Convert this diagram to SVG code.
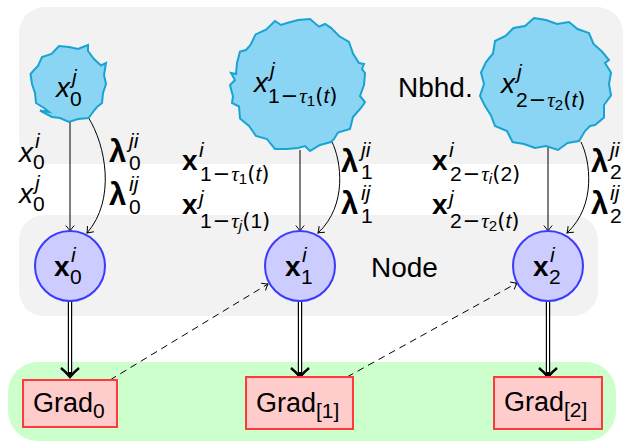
<svg xmlns="http://www.w3.org/2000/svg" width="624" height="442" viewBox="0 0 624 442">
<style>
.band{fill:#f2f2f2}
.green{fill:#ccffcc}
.blob{fill:#8bd5f4;stroke:#18a3d2;stroke-width:2;stroke-linejoin:miter}
.nd{fill:#ccccff;stroke:#3a3aff;stroke-width:2}
.gr{fill:#ffcccc;stroke:#ff3a3a;stroke-width:2}
text{font-family:"Liberation Sans",Arial,sans-serif;fill:#000}
.m{font-size:28px}
.g{font-size:27px}
.big{font-size:28px}
.it{font-style:italic}
.b{font-weight:bold}
.lam{font-weight:bold;font-size:31px}
.s{font-size:21px}
.ss{font-size:15px}
.mn{font-family:"DejaVu Sans",sans-serif}
.tau{font-family:"Liberation Serif",serif;font-style:italic}
.thin{fill:none;stroke:#000;stroke-width:1}
.dash{fill:none;stroke:#000;stroke-width:1;stroke-dasharray:7 5}
.dbl-o{fill:none;stroke:#000;stroke-width:4.4}
.dbl-i{fill:none;stroke:#fff;stroke-width:2}
.head{fill:none;stroke:#000;stroke-width:2.4;stroke-linejoin:miter}
</style>
<defs>
<marker id="to" viewBox="-7 -6 8 12" refX="0" refY="0" markerWidth="8" markerHeight="12" orient="auto" markerUnits="userSpaceOnUse" overflow="visible">
<path d="M-5.5,-4.2 Q-2,-1.2 0,0 Q-2,1.2 -5.5,4.2" fill="none" stroke="#000" stroke-width="1"/>
</marker>
</defs>

<g id="backgrounds">
<rect class="band" x="19" y="7" width="604" height="157" rx="26"/>
<rect class="band" x="19" y="215" width="579" height="101" rx="25"/>
<rect class="green" x="8" y="362" width="608" height="79" rx="30"/>
<text class="big" x="398" y="97">Nbhd.</text>
<text class="big" x="371" y="277">Node</text>
</g>

<g id="connectors">
<path class="thin" d="M70,122 L70,231" marker-end="url(#to)"/>
<path class="thin" d="M300,150 L300,231" marker-end="url(#to)"/>
<path class="thin" d="M548,147 L548,231" marker-end="url(#to)"/>
<path class="thin" d="M88,117 C106,145 116,200 87,233" marker-end="url(#to)"/>
<path class="thin" d="M332,142 C341,160 348,205 318,233" marker-end="url(#to)"/>
<path class="thin" d="M581,142 C590,160 597,205 567,233" marker-end="url(#to)"/>
<path class="dash" d="M110,380 L268,284" marker-end="url(#to)"/>
<path class="dash" d="M347,377 L517,283" marker-end="url(#to)"/>
<path class="dbl-o" d="M70,301 V375"/><path class="dbl-i" d="M70,300 V372"/>
<path class="head" d="M61,368 Q66,372 70,377 Q74,372 79,368"/>
<path class="dbl-o" d="M300,301 V375"/><path class="dbl-i" d="M300,300 V372"/>
<path class="head" d="M291,368 Q296,372 300,377 Q304,372 309,368"/>
<path class="dbl-o" d="M548,301 V375"/><path class="dbl-i" d="M548,300 V372"/>
<path class="head" d="M539,368 Q544,372 548,377 Q552,372 557,368"/>
<g id="edge-labels">
<text class="m"><tspan class="it" x="19" y="162">x</tspan><tspan class="s it" x="35" y="148">i</tspan><tspan class="s" x="33" y="169">0</tspan></text>
<text class="m"><tspan class="it" x="19" y="203">x</tspan><tspan class="s it" x="35" y="190">j</tspan><tspan class="s" x="33" y="211">0</tspan></text>
<text class="m"><tspan class="lam" x="109" y="162">λ</tspan><tspan class="s it" x="129" y="148">ji</tspan><tspan class="s" x="129" y="170">0</tspan></text>
<text class="m"><tspan class="lam" x="109" y="205">λ</tspan><tspan class="s it" x="129" y="191">ij</tspan><tspan class="s" x="129" y="214">0</tspan></text>

<text class="m"><tspan class="b" x="182" y="170">x</tspan><tspan class="s it" x="199" y="157">i</tspan><tspan class="s" x="200" y="181">1</tspan><tspan class="s mn" dx="1">−</tspan><tspan class="s tau" dx="1">τ</tspan><tspan class="ss" dy="3">1</tspan><tspan class="s mn" dy="-3">(</tspan><tspan class="s it">t</tspan><tspan class="s mn">)</tspan></text>
<text class="m"><tspan class="b" x="182" y="214">x</tspan><tspan class="s it" x="199" y="205">j</tspan><tspan class="s" x="200" y="228">1</tspan><tspan class="s mn" dx="1">−</tspan><tspan class="s tau" dx="1">τ</tspan><tspan class="ss it" dy="3">j</tspan><tspan class="s mn" dy="-3">(</tspan><tspan class="s">1</tspan><tspan class="s mn">)</tspan></text>
<text class="m"><tspan class="lam" x="341" y="172">λ</tspan><tspan class="s it" x="361" y="157">ji</tspan><tspan class="s" x="361" y="179">1</tspan></text>
<text class="m"><tspan class="lam" x="341" y="214">λ</tspan><tspan class="s it" x="361" y="200">ij</tspan><tspan class="s" x="361" y="223">1</tspan></text>

<text class="m"><tspan class="b" x="432" y="170">x</tspan><tspan class="s it" x="449" y="157">i</tspan><tspan class="s" x="450" y="181">2</tspan><tspan class="s mn" dx="1">−</tspan><tspan class="s tau" dx="1">τ</tspan><tspan class="ss it" dy="3">i</tspan><tspan class="s mn" dy="-3">(</tspan><tspan class="s">2</tspan><tspan class="s mn">)</tspan></text>
<text class="m"><tspan class="b" x="432" y="214">x</tspan><tspan class="s it" x="449" y="205">j</tspan><tspan class="s" x="450" y="228">2</tspan><tspan class="s mn" dx="1">−</tspan><tspan class="s tau" dx="1">τ</tspan><tspan class="ss" dy="3">2</tspan><tspan class="s mn" dy="-3">(</tspan><tspan class="s it">t</tspan><tspan class="s mn">)</tspan></text>
<text class="m"><tspan class="lam" x="591" y="172">λ</tspan><tspan class="s it" x="610" y="157">ji</tspan><tspan class="s" x="610" y="179">2</tspan></text>
<text class="m"><tspan class="lam" x="591" y="214">λ</tspan><tspan class="s it" x="610" y="200">ij</tspan><tspan class="s" x="610" y="223">2</tspan></text>
</g>
</g>

<g id="nbhd0">
<polygon class="blob" points="106,84 103,93 102,103 97,107 94.5,110 88.5,118 78,119 69,122 60,118 52,117 40,110.5 49,112 44,108 36,103 35,93 32,84 30.5,74 34,70 38,66 42,57 51.5,54 59,46 69,47 78,49 88,45 88,51 94,59 101,65.5 106,63 104,75"/>
<text class="m"><tspan class="it" x="56" y="97">x</tspan><tspan class="s it" x="72" y="84">j</tspan><tspan class="s" x="70" y="106">0</tspan></text>
</g>

<g id="nbhd1">
<polygon class="blob" points="364,85 360,96 365,102 361,108 353,117 350,129 338,132.5 334,139 331,142 320,145 310,151 305,146 298,148 287,149 275,149 270,143 267,139 256,136 249,126 240,118.5 239,106.5 232,103 233,96.5 230,85 235,80 231,73 236,74 237,63 240,51.5 246,50 250.5,45 255.6,34.4 266,29.6 275,21 281,25 287,23 298,20 310,19 319,26.7 325,24 331,27.8 339,36 349,42 353,53.5 359,63 364,64 362,69 365,73"/>
<text class="m"><tspan class="it" x="254" y="92">x</tspan><tspan class="s it" x="270" y="77">j</tspan><tspan class="s" x="268" y="103">1</tspan><tspan class="s mn" dx="1">−</tspan><tspan class="s tau" dx="1">τ</tspan><tspan class="ss" dy="3">1</tspan><tspan class="s mn" dy="-3">(</tspan><tspan class="s it">t</tspan><tspan class="s mn">)</tspan></text>
</g>

<g id="nbhd2">
<polygon class="blob" points="609,84 611,95.5 604,105 604,117.5 595,125 590,126 585,131 579,141 567.5,143 558,150 546,146 535,148 524,144 512.5,142 507,131 495,126 491,115.5 485,106 480,96 484,84 481,72.5 486,62 493,53.5 495,41 505.5,36 513.5,28 525,26 534,18 546,20 557,24 569,22 577.5,29 589,33 593.5,44 602,51.5 609,60 605,63 611,72.5"/>
<text class="m"><tspan class="it" x="501" y="93">x</tspan><tspan class="s it" x="517" y="79">j</tspan><tspan class="s" x="516" y="107">2</tspan><tspan class="s mn" dx="1">−</tspan><tspan class="s tau" dx="1">τ</tspan><tspan class="ss" dy="3">2</tspan><tspan class="s mn" dy="-3">(</tspan><tspan class="s it">t</tspan><tspan class="s mn">)</tspan></text>
</g>

<g id="node0">
<circle class="nd" cx="70" cy="266" r="35"/>
<text class="m"><tspan class="b" x="54" y="276">x</tspan><tspan class="s it" x="71" y="262">i</tspan><tspan class="s" x="70" y="284">0</tspan></text>
</g>
<g id="node1">
<circle class="nd" cx="300" cy="266" r="35"/>
<text class="m"><tspan class="b" x="285" y="276">x</tspan><tspan class="s it" x="302" y="262">i</tspan><tspan class="s" x="301" y="284">1</tspan></text>
</g>
<g id="node2">
<circle class="nd" cx="548" cy="266" r="35"/>
<text class="m"><tspan class="b" x="533" y="276">x</tspan><tspan class="s it" x="550" y="262">i</tspan><tspan class="s" x="549" y="284">2</tspan></text>
</g>

<g id="grad0">
<rect class="gr" x="23" y="380" width="94" height="47"/>
<text class="g"><tspan x="33" y="412">Grad</tspan><tspan class="s" y="418">0</tspan></text>
</g>
<g id="grad1">
<rect class="gr" x="246" y="377" width="107" height="52"/>
<text class="g"><tspan x="256" y="412">Grad</tspan><tspan class="s" y="418">[1]</tspan></text>
</g>
<g id="grad2">
<rect class="gr" x="494" y="377" width="108" height="52"/>
<text class="g"><tspan x="504" y="411">Grad</tspan><tspan class="s" y="417">[2]</tspan></text>
</g>
</svg>
